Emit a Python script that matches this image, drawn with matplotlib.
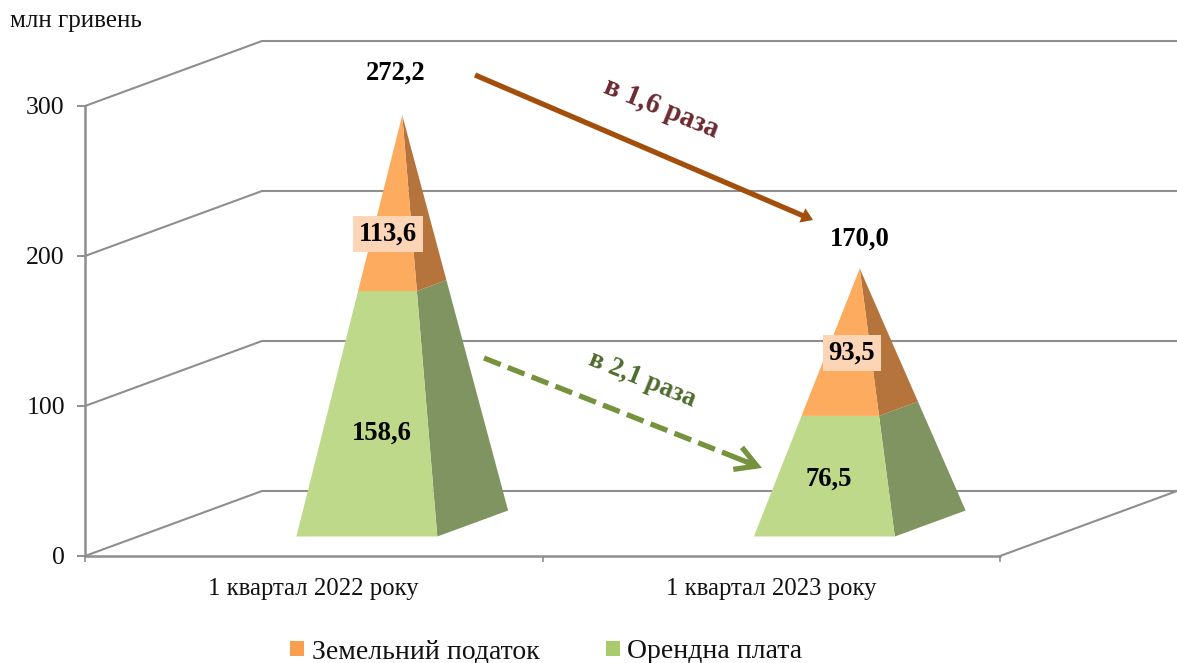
import matplotlib
matplotlib.use("Agg")
import matplotlib.pyplot as plt
from matplotlib.patches import Patch
from matplotlib.transforms import Affine2D

categories = ["1 квартал 2022 року", "1 квартал 2023 року"]
orenda = [158.6, 76.5]
zemel = [113.6, 93.5]
totals = [272.2, 170.0]
orenda_labels = ["158,6", "76,5"]
zemel_labels = ["113,6", "93,5"]
total_labels = ["272,2", "170,0"]
y_ticks = [0, 100, 200, 300]

W, H = 1177, 663
GRID = "#8E8E8E"
TEXT = "#111111"
plt.rcParams["font.family"] = ["Liberation Serif", "DejaVu Serif"]

fig = plt.figure(figsize=(W / 100, H / 100), dpi=100)
L, R, Y0, Y300 = 85, 1000, 556, 106
ax = fig.add_axes([L / W, 1 - Y0 / H, (R - L) / W, (Y0 - Y300) / H])
ax.set_xlim(0, 2)
ax.set_ylim(0, 300)
px = Affine2D().scale(1, -1).translate(0, H)

DX = 177 / ((R - L) / 2)
DY = 65 / ((Y0 - Y300) / 300)


def proj(x, d, v):
    return x + d * DX, v + d * DY


# walls
for v in y_ticks:
    a = proj(0, 0, v)
    b = proj(0, 1, v)
    c = proj(2, 1, v)
    ax.plot([a[0], b[0], c[0]], [a[1], b[1], c[1]], color=GRID, lw=1.5, clip_on=False, zorder=1,
            solid_joinstyle="miter")
a, b = proj(2, 0, 0), proj(2, 1, 0)
ax.plot([a[0], b[0]], [a[1], b[1]], color=GRID, lw=1.5, clip_on=False, zorder=1)

# pyramids
HW, D1, D2 = 0.154, 0.3, 0.7
GF, GS, OF, OS = "#BFD98A", "#7F9460", "#FDAB5E", "#B5743C"


def lerp(p, q, f):
    return (p[0] + (q[0] - p[0]) * f, p[1] + (q[1] - p[1]) * f)


for i, total in enumerate(totals):
    c = i + 0.5
    apex = proj(c, 0.5, total)
    fl = proj(c - HW, D1, 0)
    fr = proj(c + HW, D1, 0)
    br = proj(c + HW, D2, 0)
    f = orenda[i] / total
    mfl, mfr, mbr = lerp(fl, apex, f), lerp(fr, apex, f), lerp(br, apex, f)
    ax.fill(*zip(fr, br, mbr, mfr), color=GS, lw=0, clip_on=False, zorder=2)
    ax.fill(*zip(mfr, mbr, apex), color=OS, lw=0, clip_on=False, zorder=2)
    ax.fill(*zip(fl, fr, mfr, mfl), color=GF, lw=0, clip_on=False, zorder=3)
    ax.fill(*zip(mfl, mfr, apex), color=OF, lw=0, clip_on=False, zorder=3)

# axes
for s in ("top", "right"):
    ax.spines[s].set_visible(False)
for s in ("left", "bottom"):
    ax.spines[s].set_color(GRID)
    ax.spines[s].set_linewidth(1.8)
    ax.spines[s].set_zorder(1.5)
ax.patch.set_visible(False)
ax.set_yticks(y_ticks)
ax.tick_params(axis="y", length=5.5, width=1.4, color=GRID, labelsize=18.5, labelcolor=TEXT, pad=9)
ax.set_xticks([0, 1, 2])
ax.set_xticklabels([])
ax.tick_params(axis="x", which="major", length=4.5, width=1.2, color=GRID)
ax.set_xticks([0.5, 1.5], minor=True)
ax.set_xticklabels(categories, minor=True)
ax.tick_params(axis="x", which="minor", length=0, labelsize=17.8, labelcolor=TEXT, pad=16)


def label(x, y, s, size=19.2, weight="bold", color="black", rot=0, bbox=None):
    return ax.text(x, y, s, transform=px, fontsize=size, fontweight=weight, color=color, rotation=rot,
                   rotation_mode="anchor", ha="center", va="center", bbox=bbox, zorder=6, clip_on=False)


peach = dict(boxstyle="square,pad=0.22", fc="#FBD5B5", ec="none")
label(396, 73, total_labels[0])
label(860, 239, total_labels[1])
label(382, 433, orenda_labels[0])
label(829, 479, orenda_labels[1])
label(388, 234, zemel_labels[0], bbox=peach)
label(852, 353, zemel_labels[1], bbox=peach)
label(76, 21, "млн гривень", size=18, weight="normal", color=TEXT)

label(661, 108, "в 1,6 раза", size=20.6, color="#6B2A30", rot=-22)
label(642, 380, "в 2,1 раза", size=19.2, color="#4F6B2D", rot=-22)

# arrows
BROWN, GREEN = "#A34F0B", "#76923C"
ax.annotate("", xy=(813, 220), xytext=(475, 75), xycoords=px, textcoords=px, zorder=5, annotation_clip=False,
            arrowprops=dict(arrowstyle="-|>,head_length=0.3,head_width=0.2", color=BROWN, lw=3.8,
                            shrinkA=0, shrinkB=0, capstyle="butt", joinstyle="miter"))
ax.plot([484, 752], [358, 464], transform=px, color=GREEN, lw=3.8, dashes=(3.4, 1.45), dash_capstyle="butt",
        clip_on=False, zorder=5)
ax.annotate("", xy=(762, 468), xytext=(738, 458.5), xycoords=px, textcoords=px, zorder=5, annotation_clip=False,
            arrowprops=dict(arrowstyle="->,head_length=1.5,head_width=0.85", color=GREEN, lw=3.8,
                            shrinkA=0, shrinkB=0, capstyle="butt", joinstyle="miter"))

# legend
handles = [Patch(fc="#FA9E50", ec="none", label="Земельний податок"),
           Patch(fc="#A9CB6C", ec="none", label="Орендна плата")]
fig.legend(handles=handles, loc="center", bbox_to_anchor=(546.5 / W, 1 - 652 / H), ncol=2, frameon=False,
           fontsize=20, handlelength=0.48, handleheight=0.48, handletextpad=0.28, columnspacing=2.42,
           labelcolor=TEXT, borderpad=0)

fig.savefig("out.png", dpi=100, facecolor="white")
